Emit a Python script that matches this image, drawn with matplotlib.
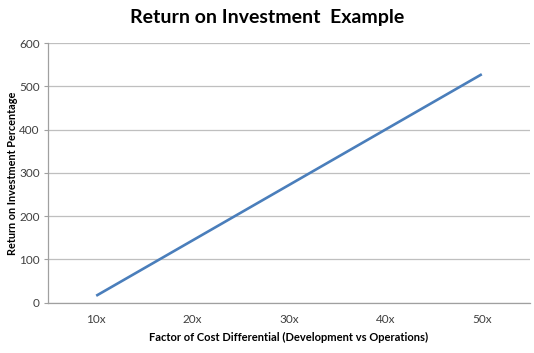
import matplotlib
matplotlib.use("Agg")
import matplotlib.pyplot as plt

plt.rcParams['font.family'] = ['Lato', 'DejaVu Sans']

categories = ['10x', '20x', '30x', '40x', '50x']
roi = [16, 144, 272, 400, 528]
yticks = [0, 100, 200, 300, 400, 500, 600]

fig = plt.figure(figsize=(5.34, 3.53), dpi=100)
ax = fig.add_axes([0.0899, 0.1425, 0.9026, 0.7355])

x = list(range(len(categories)))
ax.plot(x, roi, color='#4a7ebb', linewidth=1.9, solid_capstyle='butt')

ax.set_xlim(-0.5, len(categories) - 0.5)
ax.set_ylim(0, 600)
ax.set_yticks(yticks)
ax.set_xticks(x)
ax.set_xticklabels(categories)

ax.grid(axis='y', color='#bfbfbf', linewidth=0.9)
ax.set_axisbelow(True)
for s in ['top', 'right']:
    ax.spines[s].set_visible(False)
for s in ['left', 'bottom']:
    ax.spines[s].set_color('#a0a0a0')
    ax.spines[s].set_linewidth(0.9)

ax.tick_params(axis='y', length=3, color='#a0a0a0', labelsize=8.5, labelcolor='#404040', pad=3)
ax.tick_params(axis='x', length=0, labelsize=8.5, labelcolor='#404040', pad=8)

ax.set_xlabel('Factor of Cost Differential (Development vs Operations)',
              fontsize=8, fontweight='bold', labelpad=5)
ax.set_ylabel('Return on Investment Percentage', fontsize=7.8, fontweight='bold')
ax.yaxis.set_label_coords(-0.062, 0.5)
fig.text(0.5, 0.95, 'Return on Investment  Example', ha='center', va='center',
         fontsize=14, fontweight='bold')

fig.savefig('out.png', dpi=100)
